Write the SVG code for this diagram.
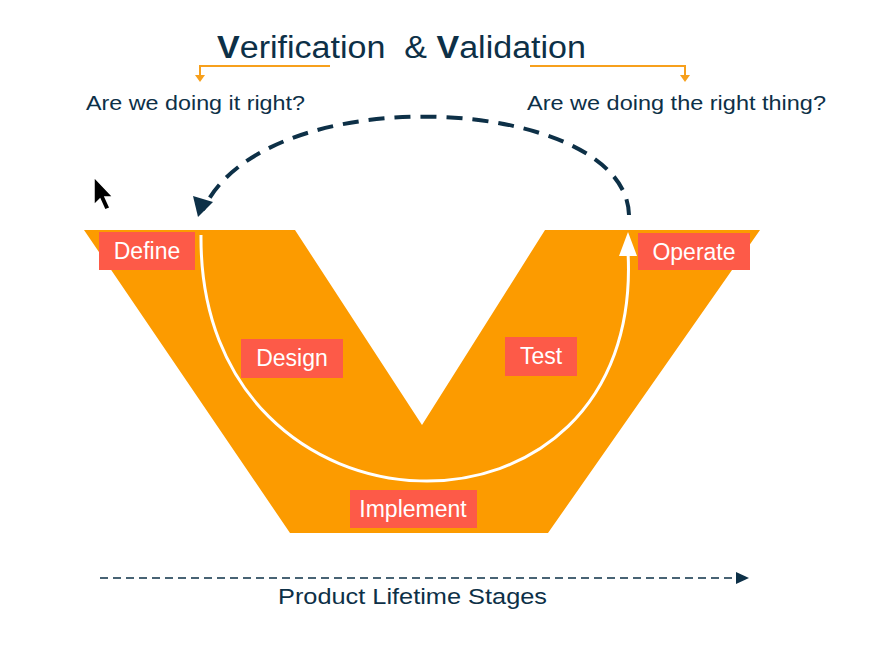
<svg xmlns="http://www.w3.org/2000/svg" width="884" height="650" viewBox="0 0 884 650">
<style>
.t{font-family:"Liberation Sans",Arial,sans-serif;fill:#0d3047}
.lb{fill:#fd5a48}
.lt{font-family:"Liberation Sans",Arial,sans-serif;fill:#fff;font-size:23px;text-anchor:middle}
.br{fill:none;stroke:#f7a01c;stroke-width:2}
</style>
<rect width="884" height="650" fill="#fff"/>
<text class="t" x="217" y="58" font-size="31" textLength="369" lengthAdjust="spacingAndGlyphs" xml:space="preserve"><tspan font-weight="bold">V</tspan>erification  &amp; <tspan font-weight="bold">V</tspan>alidation</text>
<g id="brackets">
<path class="br" d="M330,66 H200 V76"/><path d="M195,75 L205,75 L200,82 Z" fill="#f7a01c"/>
<path class="br" d="M530,66 H685 V76"/><path d="M680,75 L690,75 L685,82 Z" fill="#f7a01c"/>
</g>
<text class="t" x="86" y="110" font-size="21" textLength="219" lengthAdjust="spacingAndGlyphs">Are we doing it right?</text>
<text class="t" x="527" y="110" font-size="21" textLength="299" lengthAdjust="spacingAndGlyphs">Are we doing the right thing?</text>
<g id="cursor"><path d="M94,177 L94,205 L100,199 L105,210 L110,208 L105,197 L113,197 Z" fill="#000" stroke="#fff" stroke-width="1.5"/></g>
<g id="v"><polygon points="84,230 295,230 422,425 545,230 760,230 548,533 290,533" fill="#fc9b00"/></g>
<g id="connectors">
<path d="M629,215 C626,95 265,75 203,210" fill="none" stroke="#0d3047" stroke-width="4" stroke-dasharray="16,10"/>
<path d="M193,196 L213,202 L198,217 Z" fill="#0d3047"/>
<path d="M201,235 C198,555 645,565 628,252" fill="none" stroke="#fff" stroke-width="3"/>
<path d="M619,256 L628,232 L637,256 Z" fill="#fff"/>
<path d="M100,578 H740" stroke="#0d3047" stroke-width="1.5" stroke-dasharray="8,5"/>
<path d="M736,572 L749,578 L736,584 Z" fill="#0d3047"/>
</g>
<g id="define"><rect class="lb" x="99" y="232" width="96" height="38"/><text class="lt" x="147" y="259">Define</text></g>
<g id="operate"><rect class="lb" x="638" y="233" width="112" height="37"/><text class="lt" x="694" y="260">Operate</text></g>
<g id="design"><rect class="lb" x="241" y="339" width="102" height="39"/><text class="lt" x="292" y="366">Design</text></g>
<g id="test"><rect class="lb" x="505" y="337" width="72" height="39"/><text class="lt" x="541" y="364">Test</text></g>
<g id="implement"><rect class="lb" x="350" y="490" width="127" height="38"/><text class="lt" x="413" y="517">Implement</text></g>
<text class="t" x="278" y="604" font-size="22" textLength="269" lengthAdjust="spacingAndGlyphs">Product Lifetime Stages</text>
</svg>
